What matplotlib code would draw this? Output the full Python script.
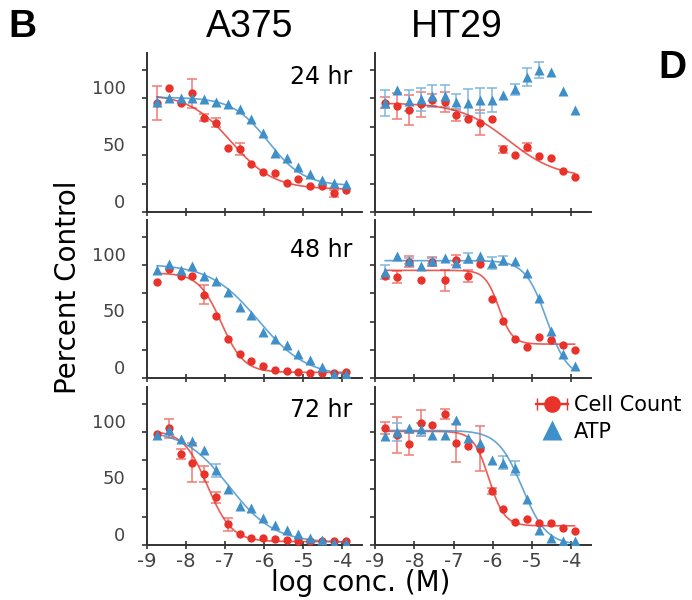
import numpy as np
import matplotlib
matplotlib.use("Agg")
import matplotlib.pyplot as plt
from matplotlib.lines import Line2D
from matplotlib.legend_handler import HandlerErrorbar
import matplotlib.transforms as mtransforms

plt.rcParams['axes.unicode_minus'] = False
plt.rcParams['font.family'] = ['DejaVu Sans']

# ---------------- data ----------------
log_conc = [-8.74, -8.44, -8.14, -7.84, -7.54, -7.23, -6.93, -6.63, -6.33,
            -6.03, -5.73, -5.43, -5.13, -4.83, -4.52, -4.22, -3.92]

a375_24_cell = [95.6, 108.8, 96.2, 104.4, 83.0, 78.6, 56.0, 55.4, 42.2, 34.9, 34.0, 25.8, 29.0, 22.9, 22.9, 16.4, 19.4]
a375_24_cell_err = [15, 0, 0, 12.7, 3, 4, 0, 5, 0, 0, 0, 0, 0, 0, 0, 3, 0]
a375_24_atp = [97.0, 100.6, 100.6, 100.6, 99.2, 97.0, 94.7, 90.6, 81.8, 69.2, 51.6, 47.2, 39.9, 33.1, 28.2, 25.8, 24.6]
a375_24_atp_err = [0] * 17

ht29_24_cell = [96.2, 93.6, 89.8, 94.7, 98.6, 96.5, 85.4, 81.6, 78.6, 81.6, 55.2, 50.2, 56.9, 49.6, 47.8, 36.1, 30.5]
ht29_24_cell_err = [5, 11.3, 12.8, 11.4, 5, 8.8, 5.1, 0, 11, 0, 3, 0, 3.5, 0, 0, 0, 0]
ht29_24_atp = [95.6, 107.4, 98.0, 99.2, 102.0, 102.0, 96.5, 96.2, 98.6, 98.6, 103.0, 108.0, 119.0, 125.0, 123.5, 106.7, 89.8]
ht29_24_atp_err = [11.4, 0, 9.5, 10, 9.5, 9.5, 7, 11.7, 11, 10.3, 0, 5, 7.8, 7, 0, 0, 0]

a375_48_cell = [85.0, 96.9, 90.1, 90.1, 73.9, 54.7, 35.0, 20.9, 15.0, 10.9, 7.1, 6.5, 5.6, 4.7, 4.7, 4.7, 5.6]
a375_48_cell_err = [0, 0, 0, 0, 8.4, 0, 0, 0, 0, 0, 0, 0, 0, 0, 0, 0, 0]
a375_48_atp = [96.0, 101.3, 96.0, 98.9, 90.1, 85.9, 76.2, 63.0, 55.6, 40.9, 35.0, 29.1, 21.2, 15.9, 10.0, 3.5, 3.5]
a375_48_atp_err = [0] * 17

ht29_48_cell = [90.1, 89.5, 103.0, 87.1, 103.0, 86.5, 104.8, 90.4, 101.2, 69.8, 50.6, 34.4, 27.1, 35.9, 33.6, 29.1, 24.7]
ht29_48_cell_err = [0, 5.4, 4.9, 0, 4, 9, 4.4, 5.7, 0, 0, 0, 0, 0, 0, 0, 0, 0]
ht29_48_atp = [93.9, 107.7, 103.6, 98.9, 103.6, 106.2, 102.1, 106.6, 108.0, 101.8, 104.2, 103.6, 93.0, 71.2, 41.5, 21.2, 10.6]
ht29_48_atp_err = [5.9, 0, 2.5, 0, 2.5, 0, 0, 4.3, 0, 5.4, 4, 0, 0, 0, 0, 0, 0]

a375_72_cell = [98.6, 103.6, 81.0, 73.0, 62.7, 42.1, 18.5, 9.7, 5.9, 5.9, 5.0, 4.4, 3.8, 3.5, 3.5, 3.5, 3.8]
a375_72_cell_err = [0, 8.4, 4.4, 17, 7, 5, 5.7, 0, 0, 0, 0, 0, 0, 0, 0, 0, 0]
a375_72_atp = [97.1, 101.5, 94.2, 92.1, 83.9, 66.2, 50.0, 34.7, 33.0, 23.5, 17.7, 13.2, 9.7, 5.9, 4.4, 1.5, 1.5]
a375_72_atp_err = [0, 0, 0, 0, 0, 5.6, 0, 0, 0, 0, 0, 0, 0, 0, 0, 0, 0]

ht29_72_cell = [103.6, 97.1, 89.2, 108.0, 106.0, 115.7, 90.3, 87.7, 85.4, 48.0, 31.5, 20.6, 22.7, 19.7, 19.7, 15.3, 12.4]
ht29_72_cell_err = [5, 16, 9.6, 11.8, 0, 4.4, 17, 0, 20, 2.5, 0, 0, 0, 0, 0, 0, 0]
ht29_72_atp = [96.5, 100.0, 103.6, 102.4, 97.7, 97.7, 111.0, 94.7, 90.3, 75.0, 73.0, 68.3, 41.2, 13.2, 5.9, 3.5, 3.5]
ht29_72_atp_err = [0, 7.7, 0, 5.9, 0, 0, 0, 0, 0, 0, 5.6, 6.2, 0, 0, 0, 0, 0]

# 4-parameter logistic fit parameters: [top, bottom, logIC50, hill]
a375_24_cell_fit = [104, 20, -6.85, 0.8]
a375_24_atp_fit = [101, 23, -5.9, 0.95]
ht29_24_cell_fit = [96, 30, -5.6, 0.7]
ht29_24_atp_fit = None
a375_48_cell_fit = [93, 5, -7.1, 1.5]
a375_48_atp_fit = [101, 1, -6.15, 0.7]
ht29_48_cell_fit = [95.4, 30, -5.85, 2.5]
ht29_48_atp_fit = [104, 0, -4.63, 1.6]
a375_72_cell_fit = [101.5, 3, -7.45, 1.4]
a375_72_atp_fit = [102, 2, -6.9, 0.75]
ht29_72_cell_fit = [100.7, 17, -6.1, 2.2]
ht29_72_atp_fit = [101.5, 0, -5.25, 1.4]

col_titles = ["A375", "HT29"]
row_labels = ["24 hr", "48 hr", "72 hr"]
x_ticks = [-9, -8, -7, -6, -5, -4]
y_ticks = [0, 50, 100]
y_minor = [25, 75, 125]

panels = [
    [(a375_24_cell, a375_24_cell_err, a375_24_cell_fit, a375_24_atp, a375_24_atp_err, a375_24_atp_fit),
     (ht29_24_cell, ht29_24_cell_err, ht29_24_cell_fit, ht29_24_atp, ht29_24_atp_err, ht29_24_atp_fit)],
    [(a375_48_cell, a375_48_cell_err, a375_48_cell_fit, a375_48_atp, a375_48_atp_err, a375_48_atp_fit),
     (ht29_48_cell, ht29_48_cell_err, ht29_48_cell_fit, ht29_48_atp, ht29_48_atp_err, ht29_48_atp_fit)],
    [(a375_72_cell, a375_72_cell_err, a375_72_cell_fit, a375_72_atp, a375_72_atp_err, a375_72_atp_fit),
     (ht29_72_cell, ht29_72_cell_err, ht29_72_cell_fit, ht29_72_atp, ht29_72_atp_err, ht29_72_atp_fit)],
]

RED = "#e8322a"
BLUE = "#3f8fc9"
RED_ERR = "#f07a74"
BLUE_ERR = "#7fb6de"
SPINE = "#333333"
TICKLAB = "#444444"

W, H = 692, 600
fig = plt.figure(figsize=(W / 100, H / 100), dpi=100)

col_x = [(147, 362), (375, 591)]
row_y = [(53, 212), (220, 378), (387, 545)]


def logistic(x, p):
    top, bottom, ic, h = p
    return bottom + (top - bottom) / (1 + 10 ** ((x - ic) * h))


x_arr = np.array(log_conc)
x_fit = np.linspace(log_conc[0], log_conc[-1], 300)

legend_ax = None
for r in range(3):
    for c in range(2):
        x0, x1 = col_x[c]
        y0, y1 = row_y[r]
        ax = fig.add_axes([x0 / W, 1 - y1 / H, (x1 - x0) / W, (y1 - y0) / H])
        cell, cell_err, cell_fit, atp, atp_err, atp_fit = panels[r][c]
        cell = np.array(cell); atp = np.array(atp)
        cell_err = np.array(cell_err, float); atp_err = np.array(atp_err, float)

        m = cell_err > 0
        if m.any():
            ax.errorbar(x_arr[m], cell[m], yerr=cell_err[m], fmt='none', ecolor=RED_ERR,
                        elinewidth=1.1, capsize=3.5, capthick=1.1, zorder=2)
        m = atp_err > 0
        if m.any():
            ax.errorbar(x_arr[m], atp[m], yerr=atp_err[m], fmt='none', ecolor=BLUE_ERR,
                        elinewidth=1.1, capsize=3.5, capthick=1.1, zorder=2)
        if cell_fit is not None:
            ax.plot(x_fit, logistic(x_fit, cell_fit), color=RED, lw=1.2, alpha=0.8, zorder=3)
        if atp_fit is not None:
            ax.plot(x_fit, logistic(x_fit, atp_fit), color=BLUE, lw=1.2, alpha=0.8, zorder=3)
        ax.plot(x_arr, cell, 'o', color=RED, ms=6, mec='none', zorder=4)
        ax.plot(x_arr, atp, '^', color=BLUE, ms=6.8, mec='none', zorder=5)

        ax.set_xlim(-9, -3.5)
        ax.set_ylim(0, 140)
        for s in ['top', 'right']:
            ax.spines[s].set_visible(False)
        for s in ['left', 'bottom']:
            ax.spines[s].set_color(SPINE)
            ax.spines[s].set_linewidth(1.4)
        ax.set_xticks(x_ticks)
        ax.set_yticks(y_ticks)
        ax.set_yticks(y_minor, minor=True)
        ax.tick_params(axis='x', direction='inout', length=6, width=1.2, color=SPINE,
                       labelsize=14, labelcolor=TICKLAB, pad=2)
        ax.tick_params(axis='y', which='both', direction='out', length=3.5, width=1.2, color=SPINE,
                       labelsize=13, labelcolor=TICKLAB, pad=12)
        if r < 2:
            ax.set_xticklabels([])
        if c == 1:
            ax.set_yticklabels([])
        else:
            off = mtransforms.ScaledTranslation(0, 8 / 72, fig.dpi_scale_trans)
            for lab in ax.get_yticklabels():
                lab.set_transform(lab.get_transform() + off)
            ax.text(0.953, [0.849, 0.81, 0.854][r], row_labels[r], transform=ax.transAxes,
                    ha='right', va='center', fontsize=17)
        if r == 2 and c == 1:
            legend_ax = ax

# legend
eb = legend_ax.errorbar([np.nan], [np.nan], xerr=[[1], [1]], fmt='-o', color=RED, ms=12,
                        mec='none', capsize=4, lw=1.6, elinewidth=1.6)
tri = Line2D([], [], marker='^', ls='none', color=BLUE, ms=15, mec='none')
fig.legend([eb, tri], ["Cell Count", "ATP"], loc='upper left',
           bbox_to_anchor=(526 / W, 1 - 385 / H), frameon=False, fontsize=15,
           handlelength=1.5, handletextpad=0.3, borderpad=0, labelspacing=0.3,
           handler_map={eb: HandlerErrorbar(xerr_size=0.7)})

# figure-level text
fig.text(68 / W, 1 - 287 / H, "Percent Control", rotation=90, ha='center', va='center', fontsize=20)
fig.text(361 / W, 1 - 583 / H, "log conc. (M)", ha='center', va='center', fontsize=20)

hdr = ['Liberation Sans Narrow', 'Liberation Sans']
fig.text(250 / W, 1 - 27 / H, col_titles[0], ha='center', va='center', fontsize=27, family=hdr)
fig.text(457 / W, 1 - 27 / H, col_titles[1], ha='center', va='center', fontsize=27, family=hdr)
fig.text(22 / W, 1 - 27 / H, "B", ha='center', va='center', fontsize=28, weight='bold', family=hdr)
fig.text(672 / W, 1 - 68 / H, "D", ha='center', va='center', fontsize=28, weight='bold', family=hdr)

fig.savefig("out.png", dpi=100)
